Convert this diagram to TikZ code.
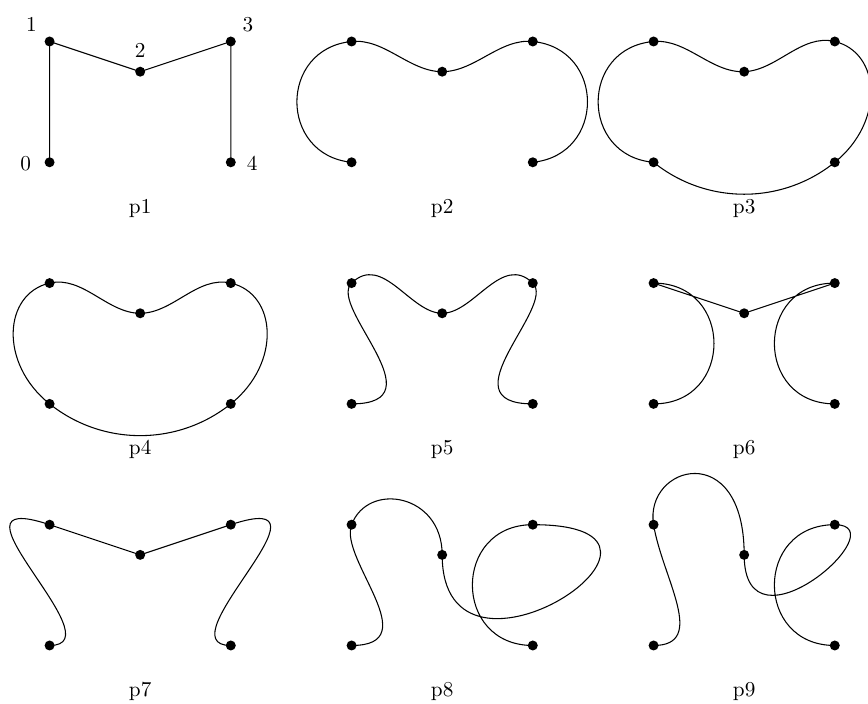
\documentclass[tikz,border=0pt]{standalone}
\begin{document}
\begin{tikzpicture}[x=0.5cm,y=0.5cm,
  dot/.style={circle,fill=black,inner sep=0pt,minimum size=4.7pt},
  crv/.style={line width=0.5pt,line join=round},
  plab/.style={anchor=base,inner sep=0pt},
  nlab/.style={inner sep=0pt}]
\useasboundingbox (-1.642,-17.937) rectangle (27.100,5.374);
\newcommand\ptset[1]{%
  \coordinate (#1-0) at (0,0);
  \coordinate (#1-1) at (0,4);
  \coordinate (#1-2) at (3,3);
  \coordinate (#1-3) at (6,4);
  \coordinate (#1-4) at (6,0);}
\newcommand\dotset[1]{%
  \foreach \k in {0,...,4} {\node[dot] (#1-d\k) at (#1-\k) {};}}
% p1
\begin{scope}
  \ptset{a}
  \draw[crv] (a-0) -- (a-1) -- (a-2) -- (a-3) -- (a-4);
  \dotset{a}
  \node[nlab] (n0) at (-0.79,-0.03) {0};
  \node[nlab] (n1) at (-0.6,4.56) {1};
  \node[nlab] (n2) at (3,3.72) {2};
  \node[nlab] (n3) at (6.57,4.56) {3};
  \node[nlab] (n4) at (6.705,-0.03) {4};
  \node[plab] (l1) at (3,-1.68) {p1};
\end{scope}
% p2
\begin{scope}[shift={(10,0)}]
  \ptset{b}
  \draw[crv] (b-0) .. controls (-2.4147,0.2401) and (-2.4147,3.7599) .. (b-1)
    .. controls (1.0930,4.1087) and (1.9145,3) .. (b-2)
    .. controls (4.0855,3) and (4.9070,4.1087) .. (b-3)
    .. controls (8.4147,3.7599) and (8.4147,0.2401) .. (b-4);
  \dotset{b}
  \node[plab] (l2) at (3,-1.68) {p2};
\end{scope}
% p3
\begin{scope}[shift={(20,0)}]
  \ptset{c}
  \draw[crv] (c-0) .. controls (-2.4479,0.2098) and (-2.4479,3.7902) .. (c-1)
    .. controls (1.0933,4.0937) and (1.9102,2.9586) .. (c-2)
    .. controls (4.0839,3.0412) and (4.9014,4.2660) .. (c-3)
    .. controls (7.5276,3.6301) and (7.6640,1.3400) .. (c-4)
    .. controls (4.2485,-1.4101) and (1.7515,-1.4101) .. (c-0);
  \dotset{c}
  \node[plab] (l3) at (3,-1.68) {p3};
\end{scope}
% p4
\begin{scope}[shift={(0,-8)}]
  \ptset{d}
  \draw[crv] (d-0) .. controls (-1.6833,1.3445) and (-1.5314,3.6479) .. (d-1)
    .. controls (1.1009,4.2531) and (1.9116,3) .. (d-2)
    .. controls (4.0884,3) and (4.8991,4.2531) .. (d-3)
    .. controls (7.5314,3.6479) and (7.6833,1.3445) .. (d-4)
    .. controls (4.2455,-1.4014) and (1.7545,-1.4014) .. (d-0) -- cycle;
  \dotset{d}
  \node[plab] (l4) at (3,-1.68) {p4};
\end{scope}
% p5
\begin{scope}[shift={(10,-8)}]
  \ptset{e}
  \draw[crv] (e-0) .. controls (2.9516,0) and (-0.8003,3.2227) .. (e-1)
    .. controls (1.0254,4.9959) and (1.9430,3) .. (e-2)
    .. controls (4.0570,3) and (4.9746,4.9959) .. (e-3)
    .. controls (6.8003,3.2227) and (3.0484,0) .. (e-4);
  \dotset{e}
  \node[plab] (l5) at (3,-1.68) {p5};
\end{scope}
% p6
\begin{scope}[shift={(20,-8)}]
  \ptset{f}
  \draw[crv] (f-0) .. controls (2.6667,0) and (2.6667,4) .. (f-1)
    -- (f-2) -- (f-3)
    .. controls (3.3333,4) and (3.3333,0) .. (f-4);
  \dotset{f}
  \node[plab] (l6) at (3,-1.68) {p6};
\end{scope}
% p7
\begin{scope}[shift={(0,-16)}]
  \ptset{g}
  \draw[crv] (g-0) .. controls (2.3066,0) and (-3.8975,5.2992) .. (g-1)
    -- (g-2) -- (g-3)
    .. controls (9.8975,5.2992) and (3.6934,0) .. (g-4);
  \dotset{g}
  \node[plab] (l7) at (3,-1.68) {p7};
\end{scope}
% p8
\begin{scope}[shift={(10,-16)}]
  \ptset{h}
  \draw[crv] (h-0) .. controls (2.5173,0) and (-0.4293,2.8639) .. (h-1)
    .. controls (0.5447,5.4414) and (3,5.0252) .. (h-2)
    .. controls (3,-2.2764) and (12.4296,4) .. (h-3)
    .. controls (3.3333,4) and (3.3333,0) .. (h-4);
  \dotset{h}
  \node[plab] (l8) at (3,-1.68) {p8};
\end{scope}
% p9
\begin{scope}[shift={(20,-16)}]
  \ptset{i}
  \draw[crv] (i-0) .. controls (1.8062,0) and (0.2826,2.2551) .. (i-1)
    .. controls (-0.3193,5.9715) and (3,6.8847) .. (i-2)
    .. controls (3,-0.5176) and (8.1432,4) .. (i-3)
    .. controls (3.3333,4) and (3.3333,0) .. (i-4);
  \dotset{i}
  \node[plab] (l9) at (3,-1.68) {p9};
\end{scope}
\end{tikzpicture}
\end{document}
